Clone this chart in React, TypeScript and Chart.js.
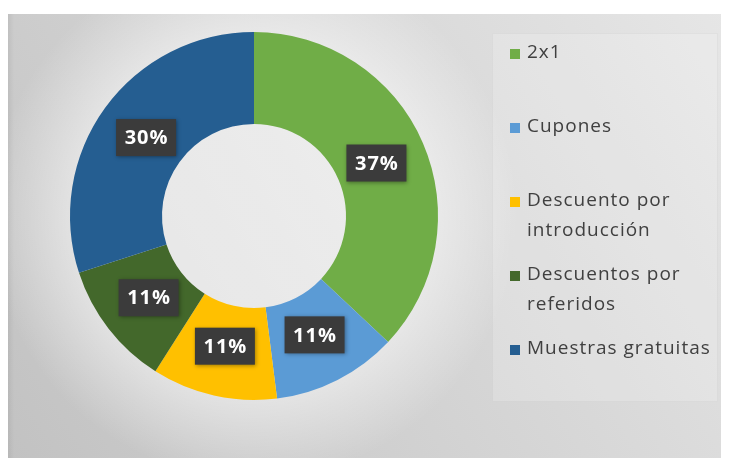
import React, { useEffect, useRef } from "react";
import { Chart, registerables } from "chart.js";
Chart.register(...registerables);

const categories = [
  "2x1",
  "Cupones",
  "Descuento por introducción",
  "Descuentos por referidos",
  "Muestras gratuitas",
];
const values = [37, 11, 11, 11, 30];
const colors = ["#70AD47", "#5B9BD5", "#FFC000", "#43682B", "#255E91"];

const FONT = "'Open Sans', 'Noto Sans', sans-serif";

function wrap(ctx: CanvasRenderingContext2D, text: string, maxW: number) {
  const words = text.split(" ");
  const lines: string[] = [];
  let cur = "";
  for (const w of words) {
    const t = cur ? cur + " " + w : w;
    if (ctx.measureText(t).width > maxW && cur) {
      lines.push(cur);
      cur = w;
    } else cur = t;
  }
  if (cur) lines.push(cur);
  return lines;
}

const bgPlugin = {
  id: "bg",
  beforeDraw(chart: any) {
    const { ctx, width, height } = chart;
    ctx.save();
    const g = ctx.createLinearGradient(width, 0, 0, height);
    g.addColorStop(0, "#e6e6e6");
    g.addColorStop(1, "#c2c2c2");
    ctx.fillStyle = g;
    ctx.fillRect(0, 0, width, height);
    const eg = ctx.createLinearGradient(0, 0, 6, 0);
    eg.addColorStop(0, "rgba(0,0,0,0.06)");
    eg.addColorStop(1, "rgba(0,0,0,0)");
    ctx.fillStyle = eg;
    ctx.fillRect(0, 0, 6, height);
    const meta = chart.getDatasetMeta(0);
    const arc = meta.data[0];
    if (arc) {
      const { x, y, outerRadius } = arc.getProps(["x", "y", "outerRadius"], true);
      const rg = ctx.createRadialGradient(x, y, outerRadius * 0.9, x, y, outerRadius + 80);
      rg.addColorStop(0, "rgba(255,255,255,0.55)");
      rg.addColorStop(1, "rgba(255,255,255,0)");
      ctx.fillStyle = rg;
      ctx.fillRect(0, 0, width, height);
    }
    // legend panel
    ctx.fillStyle = "rgba(255,255,255,0.18)";
    ctx.fillRect(484, 19, 226, 369);
    ctx.strokeStyle = "rgba(0,0,0,0.035)";
    ctx.lineWidth = 1;
    ctx.strokeRect(484.5, 19.5, 225, 368);
    ctx.restore();
  },
  afterDraw(chart: any) {
    const { ctx } = chart;
    ctx.save();
    ctx.font = `19px ${FONT}`;
    (ctx as any).letterSpacing = "1px";
    ctx.textBaseline = "middle";
    ctx.textAlign = "left";
    let yc = 39;
    const lineH = 30;
    const step = 74;
    categories.forEach((c, i) => {
      const lines = wrap(ctx, c, 192);
      ctx.fillStyle = colors[i];
      ctx.fillRect(502, yc - 4, 10, 10);
      ctx.fillStyle = "#404040";
      lines.forEach((l, k) => ctx.fillText(l, 519, yc + k * lineH));
      yc += step;
    });
    ctx.restore();
  },
  afterDatasetsDraw(chart: any) {
    const { ctx } = chart;
    const meta = chart.getDatasetMeta(0);
    const total = values.reduce((a, b) => a + b, 0);
    ctx.save();
    ctx.font = `bold 20px ${FONT}`;
    (ctx as any).letterSpacing = "1px";
    ctx.textAlign = "center";
    ctx.textBaseline = "middle";
    meta.data.forEach((el: any, i: number) => {
      const p = el.getProps(["x", "y", "startAngle", "endAngle", "innerRadius", "outerRadius"], true);
      const a = (p.startAngle + p.endAngle) / 2;
      const r = p.innerRadius + 0.45 * (p.outerRadius - p.innerRadius);
      const cx = p.x + Math.cos(a) * r;
      const cy = p.y + Math.sin(a) * r;
      const txt = Math.round((values[i] / total) * 100) + "%";
      const w = 60, h = 37;
      ctx.shadowColor = "rgba(0,0,0,0.35)";
      ctx.shadowBlur = 4;
      ctx.shadowOffsetX = 1;
      ctx.shadowOffsetY = 1;
      ctx.fillStyle = "#3b3b3b";
      ctx.fillRect(cx - w / 2, cy - h / 2, w, h);
      ctx.shadowColor = "transparent";
      ctx.fillStyle = "#ffffff";
      ctx.fillText(txt, cx + 0.5, cy + 1);
    });
    ctx.restore();
  },
};

export default function App() {
  const ref = useRef<HTMLCanvasElement>(null);
  useEffect(() => {
    if (!ref.current) return;
    const chart = new Chart(ref.current, {
      type: "doughnut",
      data: {
        labels: categories,
        datasets: [
          {
            data: values,
            backgroundColor: colors,
            borderWidth: 0,
          },
        ],
      },
      options: {
        responsive: false,
        animation: false,
        cutout: "50%",
        layout: { padding: { left: 62, top: 18, right: 291, bottom: 58 } },
        plugins: {
          legend: { display: false },
          tooltip: { enabled: false },
        },
      },
      plugins: [bgPlugin],
    });
    return () => chart.destroy();
  }, []);
  return (
    <canvas
      ref={ref}
      width={721}
      height={444}
      style={{ display: "block", marginTop: 6, width: 721, height: 444 }}
    />
  );
}
